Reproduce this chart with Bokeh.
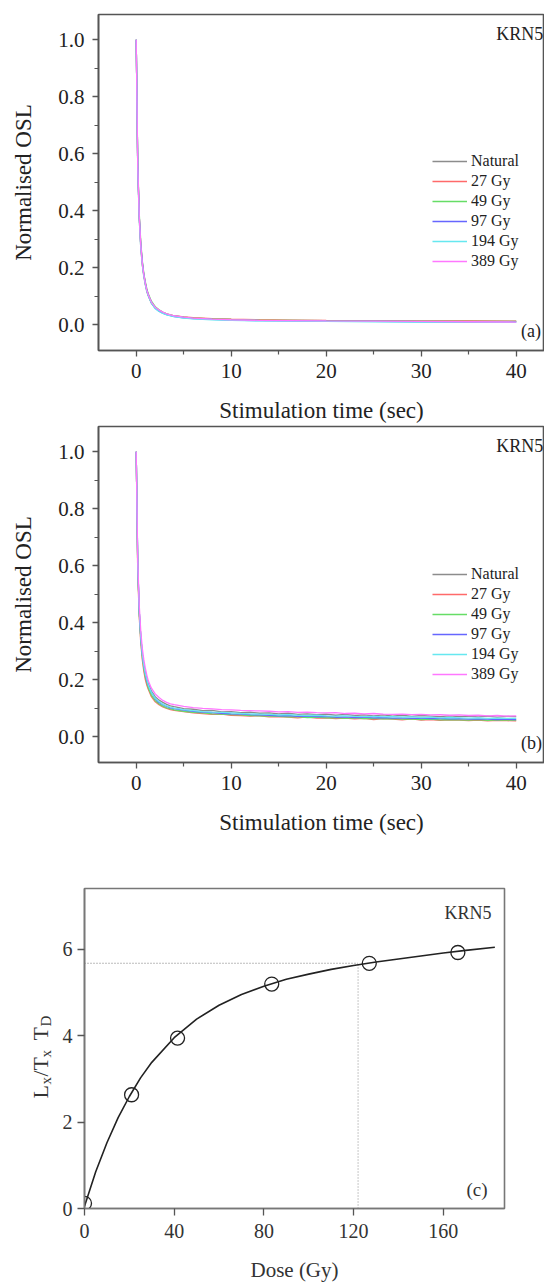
import math
from bokeh.plotting import figure
from bokeh.layouts import column, row
from bokeh.models import Legend, LegendItem, Label, FixedTicker, Range1d, PrintfTickFormatter
from bokeh.core.properties import value
from bokeh.embed import file_html
from bokeh.resources import INLINE

FONT = "Liberation Serif"

SERIES = ["Natural", "27 Gy", "49 Gy", "97 Gy", "194 Gy", "389 Gy"]
COLORS = ["#8c8c8c", "#ff6a6a", "#66dd66", "#6666ff", "#66e8f0", "#ff77ff"]

# ---- panel (a): normalised OSL decay curves ----
T_A = [0, 0.16, 0.32, 0.48, 0.64, 0.8, 0.96, 1.12, 1.28, 1.6, 2.0, 2.4, 2.8, 3.2, 4, 5, 6, 8, 10, 13, 16, 20, 25, 30, 35, 40]
A_NATURAL = [1.0, .55, .37, .27, .21, .17, .14, .115, .10, .075, .058, .048, .041, .036, .030, .026, .023, .020, .018, .016, .015, .014, .013, .012, .012, .011]
A_27 = [1.0, .56, .38, .28, .215, .175, .145, .12, .103, .078, .060, .050, .043, .038, .031, .027, .024, .021, .019, .017, .016, .015, .014, .013, .013, .012]
A_49 = [1.0, .57, .39, .29, .225, .18, .15, .125, .107, .082, .063, .052, .044, .038, .031, .026, .023, .020, .018, .016, .015, .014, .013, .012, .011, .011]
A_97 = [1.0, .56, .38, .28, .22, .175, .145, .12, .103, .077, .058, .047, .040, .035, .028, .024, .021, .018, .016, .014, .013, .012, .011, .010, .009, .009]
A_194 = [1.0, .55, .37, .27, .21, .17, .14, .117, .10, .075, .056, .046, .039, .034, .028, .023, .020, .017, .015, .013, .012, .011, .010, .009, .009, .008]
A_389 = [1.0, .56, .38, .28, .215, .175, .145, .12, .104, .079, .061, .051, .044, .038, .031, .026, .023, .019, .017, .015, .014, .013, .012, .011, .010, .009]

# ---- panel (b): normalised OSL decay curves ----
T_B = [0, 0.16, 0.32, 0.48, 0.64, 0.8, 0.96, 1.12, 1.28, 1.6, 2.0, 2.4, 2.8, 3.2, 3.6,
       4, 5, 6, 7, 8, 9, 10, 11, 12, 13, 14, 15, 16, 17, 18, 19, 20, 21, 22, 23, 24, 25,
       26, 27, 28, 29, 30, 31, 32, 33, 34, 35, 36, 37, 38, 39, 40]
B_NATURAL = [1.0, .60, .44, .35, .29, .25, .22, .20, .185, .16, .14, .128, .12, .113, .108,
             .105, .098, .096, .091, .092, .087, .088, .084, .086, .082, .083, .080, .082, .078, .080, .077, .079, .075, .078, .074, .076, .073,
             .076, .072, .075, .071, .074, .072, .070, .073, .070, .072, .069, .072, .068, .071, .070]
B_27 = [1.0, .58, .42, .33, .27, .23, .20, .18, .165, .14, .122, .112, .104, .099, .095,
        .092, .088, .083, .081, .078, .079, .075, .074, .072, .073, .069, .070, .068, .066, .069, .065, .066, .063, .065, .062, .064, .060,
        .063, .061, .059, .062, .058, .060, .057, .059, .058, .056, .058, .055, .057, .056, .055]
B_49 = [1.0, .60, .43, .34, .28, .24, .21, .19, .17, .145, .126, .115, .107, .101, .097,
        .094, .089, .085, .083, .080, .079, .077, .076, .074, .073, .072, .071, .069, .070, .067, .068, .066, .067, .064, .066, .063, .064,
        .062, .063, .061, .062, .060, .061, .059, .060, .059, .058, .060, .057, .059, .058, .058]
B_97 = [1.0, .61, .44, .35, .29, .25, .22, .195, .18, .155, .133, .12, .112, .106, .101,
        .098, .093, .089, .086, .084, .082, .080, .079, .077, .076, .075, .073, .074, .071, .072, .070, .071, .068, .069, .067, .068, .066,
        .067, .065, .066, .064, .065, .063, .064, .062, .063, .061, .062, .061, .060, .061, .060]
B_194 = [1.0, .61, .44, .35, .29, .25, .22, .20, .18, .155, .135, .123, .114, .108, .103,
         .100, .095, .091, .088, .086, .085, .083, .081, .080, .079, .078, .076, .077, .075, .074, .075, .073, .072, .073, .071, .070, .071,
         .069, .070, .068, .069, .067, .068, .066, .067, .066, .065, .066, .064, .065, .064, .064]
B_389 = [1.0, .62, .46, .37, .31, .27, .24, .215, .195, .17, .15, .137, .127, .12, .115,
         .112, .106, .102, .099, .097, .095, .094, .092, .091, .090, .089, .087, .088, .085, .086, .084, .083, .084, .081, .082, .080, .081,
         .079, .078, .079, .077, .078, .076, .077, .075, .076, .074, .075, .073, .074, .072, .073]

# ---- panel (c): dose response ----
DOSE = [0, 21, 41.5, 83.5, 127, 166.5]
LXTX = [0.12, 2.63, 3.94, 5.19, 5.67, 5.92]
FIT_DOSE = [0, 5, 10, 15, 20, 25, 30, 40, 50, 60, 70, 80, 90, 100, 110, 120, 130, 140, 150, 160, 170, 183]
FIT_LXTX = [0.05, 0.85, 1.52, 2.10, 2.59, 3.02, 3.38, 3.95, 4.38, 4.70, 4.95, 5.14, 5.30, 5.42, 5.53, 5.62, 5.70, 5.77, 5.84, 5.91, 5.97, 6.04]
DE_DOSE = 122
DE_LXTX = 5.67
Y_LABEL_PARTS = ["L", "x", "/T", "x", "T", "D"]


def style_axes(p, tick_size, title_size, color):
    p.grid.visible = False
    p.outline_line_color = "#555555"
    p.outline_line_width = 1.6
    p.border_fill_color = "white"
    for ax in (p.xaxis[0], p.yaxis[0]):
        ax.axis_line_color = "#555555"
        ax.axis_line_width = 1.6
        ax.major_tick_line_color = "#555555"
        ax.major_tick_line_width = 1.3
        ax.minor_tick_line_color = "#555555"
        ax.minor_tick_line_width = 1.2
        ax.major_tick_in = 0
        ax.minor_tick_in = 0
        ax.major_label_text_font = FONT
        ax.major_label_text_font_size = tick_size
        ax.major_label_text_color = color
        ax.axis_label_text_font = FONT
        ax.axis_label_text_font_size = title_size
        ax.axis_label_text_font_style = "normal"
        ax.axis_label_text_color = color


def decay_panel(T, ys, tag, top, bottom, legend_y):
    p = figure(frame_width=446, frame_height=336,
               x_range=Range1d(-3.97, 42.98), y_range=Range1d(-0.091, 1.089),
               output_backend="svg", toolbar_location=None,
               min_border_left=98, min_border_right=0, min_border_top=top, min_border_bottom=bottom)
    style_axes(p, "21px", "23px", "#222222")
    p.xaxis.ticker = FixedTicker(ticks=[0, 10, 20, 30, 40], minor_ticks=[5, 15, 25, 35])
    p.yaxis.ticker = FixedTicker(ticks=[0, 0.2, 0.4, 0.6, 0.8, 1.0], minor_ticks=[0.1, 0.3, 0.5, 0.7, 0.9])
    p.yaxis.formatter = PrintfTickFormatter(format="%.1f")
    p.xaxis.major_tick_out = 6
    p.xaxis.minor_tick_out = 4
    p.yaxis.major_tick_out = 6
    p.yaxis.minor_tick_out = 4
    p.xaxis.major_label_standoff = 7
    p.yaxis.major_label_standoff = 8
    p.xaxis.axis_label = "Stimulation time (sec)"
    p.yaxis.axis_label = "Normalised OSL"
    p.xaxis.axis_label_standoff = 17
    p.yaxis.axis_label_standoff = 19

    items = []
    for name, color, y in zip(SERIES, COLORS, ys):
        r = p.line(T, y, line_color=color, line_width=1.3)
        items.append(LegendItem(label=name, renderers=[r]))
    leg = Legend(items=items, location=(334, legend_y), glyph_width=35, glyph_height=20,
                 label_height=20, spacing=0, padding=0, margin=0, label_standoff=4,
                 border_line_alpha=0, background_fill_alpha=0,
                 label_text_font=FONT, label_text_font_size="16px", label_text_color="#222222")
    p.add_layout(leg)

    p.add_layout(Label(x=37.9, y=1.02, text="KRN5", text_font=FONT, text_font_size="18px",
                       text_baseline="middle", text_align="left", text_color="#222222"))
    p.add_layout(Label(x=40.5, y=-0.021, text=tag, text_font=FONT, text_font_size="18px",
                       text_baseline="middle", text_align="left", text_color="#222222"))
    return p


p1 = decay_panel(T_A, [A_NATURAL, A_27, A_49, A_97, A_194, A_389], "(a)", 14, 75, 79)
p2 = decay_panel(T_B, [B_NATURAL, B_27, B_49, B_97, B_194, B_389], "(b)", 1, 76, 78)

# ---- panel (c) ----
X_END = 187.3
Y_END = 7.4
LABEL_W = 58
FR_TOP, FR_BOT = 888, 1208   # page y of the (c) frame
p3 = figure(frame_width=420, frame_height=320, x_range=Range1d(0, X_END), y_range=Range1d(0, Y_END),
            output_backend="svg", toolbar_location=None,
            min_border_left=26, min_border_right=40, min_border_top=50, min_border_bottom=75)
style_axes(p3, "20px", "21px", "#333333")
p3.outline_line_color = "#777777"
p3.xaxis.axis_line_color = "#777777"
p3.yaxis.axis_line_color = "#777777"
p3.xaxis.ticker = FixedTicker(ticks=[0, 40, 80, 120, 160])
p3.yaxis.ticker = FixedTicker(ticks=[0, 2, 4, 6])
p3.xaxis.minor_tick_line_color = None
p3.yaxis.minor_tick_line_color = None
p3.xaxis.major_tick_out = 7
p3.yaxis.major_tick_out = 7
p3.xaxis.major_label_standoff = 8
p3.yaxis.major_label_standoff = 5
p3.xaxis.axis_label = "Dose (Gy)"
p3.xaxis.axis_label_standoff = 17

p3.line([0, DE_DOSE], [DE_LXTX, DE_LXTX], line_color="#777777", line_width=1.1, line_dash="1 2")
p3.line([DE_DOSE, DE_DOSE], [0, DE_LXTX], line_color="#999999", line_width=1.1, line_dash="1 2")
p3.line(FIT_DOSE, FIT_LXTX, line_color="#222222", line_width=1.6)
p3.scatter(DOSE, LXTX, marker="circle", size=14, fill_color=None, line_color="#222222", line_width=1.3)

p3.add_layout(Label(x=160.5, y=6.84, text="KRN5", text_font=FONT, text_font_size="18px",
                    text_baseline="middle", text_align="left", text_color="#333333"))
p3.add_layout(Label(x=170.3, y=0.43, text="(c)", text_font=FONT, text_font_size="19px",
                    text_baseline="middle", text_align="left", text_color="#333333"))

# narrow strip holding the rotated y title "L_x/T_x  T_D"; its frame lines up with (c)'s frame,
# and its data coordinates are page pixels (y range inverted)
pl = figure(frame_width=LABEL_W, frame_height=320, x_range=Range1d(0, LABEL_W), y_range=Range1d(FR_BOT, FR_TOP),
            output_backend="svg", toolbar_location=None, x_axis_type=None, y_axis_type=None,
            min_border_left=0, min_border_right=0, min_border_top=50, min_border_bottom=75)
pl.grid.visible = False
pl.outline_line_color = None
# (page y where the piece starts, font px, baseline page x)
pos = [(1098, 22, 40), (1084, 15, 45), (1076, 22, 40), (1057, 15, 45), (1040, 22, 40), (1026, 15, 45)]
for txt, (start, size, base) in zip(Y_LABEL_PARTS, pos):
    pl.text(x=[base], y=[start], text=[txt], angle=math.pi / 2,
            text_font=value(FONT), text_font_size=f"{size}px", text_align="left",
            text_baseline="alphabetic", text_color="#333333")

layout = column(p1, p2, row(pl, p3, spacing=0), spacing=0)
open("out.html", "w").write(file_html(layout, INLINE))
